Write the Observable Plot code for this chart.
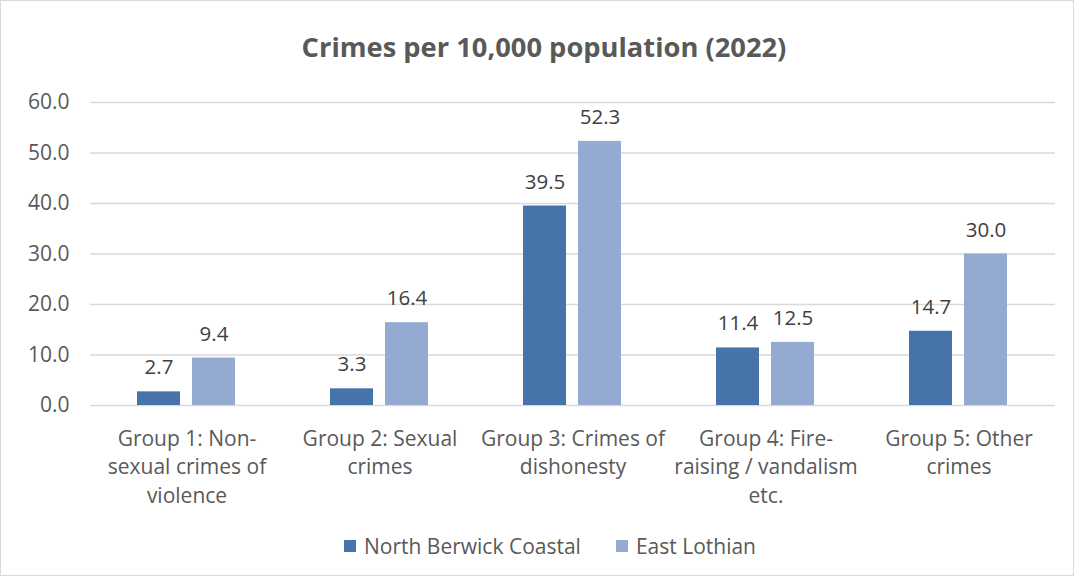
<!DOCTYPE html>
<html>
<head>
<meta charset="utf-8">
<script src="https://cdn.jsdelivr.net/npm/d3@7"></script>
<script src="https://cdn.jsdelivr.net/npm/@observablehq/plot@0.6"></script>
<style>
  html, body { margin: 0; padding: 0; background: #fff; }
  #frame { box-sizing: border-box; width: 1074px; height: 576px; border: 1px solid #d9d9d9; background: #fff; font-family: "Open Sans", Lato, sans-serif; }
  #title { height: 85px; display: flex; align-items: center; justify-content: center; font-size: 27.3px; font-weight: bold; color: #595959; padding-top: 6px; padding-left: 14px; box-sizing: border-box; }
  #legend { display: flex; justify-content: center; align-items: center; gap: 35px; height: 40px; font-size: 21px; color: #595959; padding-left: 26px; box-sizing: border-box; }
  #legend .item { display: flex; align-items: center; gap: 8px; }
  #legend .sw { width: 12px; height: 12px; display: inline-block; }
  svg { display: block; }
</style>
</head>
<body>
<div id="frame">
  <div id="title">Crimes per 10,000 population (2022)</div>
  <div id="chart"></div>
  <div id="legend"></div>
</div>
<script>
const categories = [
  "Group 1: Non-sexual crimes of violence",
  "Group 2: Sexual crimes",
  "Group 3: Crimes of dishonesty",
  "Group 4: Fire-raising / vandalism etc.",
  "Group 5: Other crimes"
];
const categoryLabels = [
  "Group 1: Non-\nsexual crimes of\nviolence",
  "Group 2: Sexual\ncrimes",
  "Group 3: Crimes of\ndishonesty",
  "Group 4: Fire-\nraising / vandalism\netc.",
  "Group 5: Other\ncrimes"
];
const seriesNames = ["North Berwick Coastal", "East Lothian"];
const northBerwick = [2.7, 3.3, 39.5, 11.4, 14.7];
const eastLothian = [9.4, 16.4, 52.3, 12.5, 30.0];
const yTicks = [0, 10, 20, 30, 40, 50, 60];
const colors = ["#4673aa", "#94aad3"];

const data = [];
categories.forEach((c, i) => {
  data.push({group: c, series: seriesNames[0], value: northBerwick[i]});
  data.push({group: c, series: seriesNames[1], value: eastLothian[i]});
});
const labelMap = new Map(categories.map((c, i) => [c, categoryLabels[i]]));

const chart = Plot.plot({
  width: 1072,
  height: 440,
  marginTop: 16,
  marginBottom: 121,
  marginLeft: 87,
  marginRight: 17,
  style: {fontFamily: "'Open Sans', Lato, sans-serif", fontSize: "21px", color: "#595959", background: "#fff"},
  fx: {domain: categories, padding: 0, paddingOuter: 0, label: null},
  x: {domain: seriesNames, paddingInner: 0.214, paddingOuter: 0.836, axis: null},
  y: {domain: [0, 60], label: null},
  color: {domain: seriesNames, range: colors},
  marks: [
    Plot.gridY({ticks: yTicks, stroke: "#d9d9d9", strokeOpacity: 1, strokeWidth: 1.3}),
    Plot.axisY({ticks: yTicks, tickSize: 0, tickPadding: 21, tickFormat: d3.format(".1f"), label: null, fontSize: 21, fill: "#595959"}),
    Plot.axisFx({anchor: "bottom", tickSize: 0, tickPadding: 20, label: null, tickFormat: d => labelMap.get(d), lineHeight: 1.36, fontSize: 21, fill: "#595959"}),
    Plot.barY(data, {fx: "group", x: "series", y: "value", fill: "series"}),
    Plot.text(data, {fx: "group", x: "series", y: "value", text: d => d3.format(".1f")(d.value), dy: -24, fontSize: 20.5, fill: "#404040"})
  ]
});
document.getElementById("chart").appendChild(chart);

const legend = document.getElementById("legend");
seriesNames.forEach((s, i) => {
  const item = document.createElement("div");
  item.className = "item";
  const sw = document.createElement("span");
  sw.className = "sw";
  sw.style.background = colors[i];
  const t = document.createElement("span");
  t.textContent = s;
  item.appendChild(sw);
  item.appendChild(t);
  legend.appendChild(item);
});
</script>
</body>
</html>
